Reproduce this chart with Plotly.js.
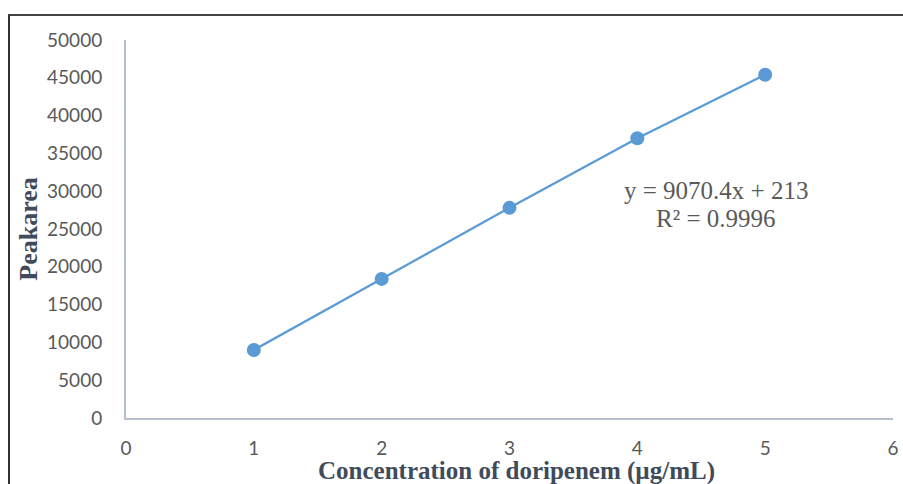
<!DOCTYPE html>
<html>
<head>
<meta charset="utf-8">
<script src="https://cdn.plot.ly/plotly-3.0.1.min.js"></script>
<style>
html,body{margin:0;padding:0;background:#fff;}
#wrap{position:relative;width:903px;height:484px;}
#chart{position:absolute;left:0;top:0;width:903px;height:484px;}
#frame{position:absolute;left:8px;top:14px;width:900px;height:480px;border-left:2px solid #333;border-top:2px solid #444;pointer-events:none;}
</style>
</head>
<body>
<div id="wrap"><div id="chart"></div><div id="frame"></div></div>
<script>
const concentration = [1, 2, 3, 4, 5];
const peakArea = [9000, 18400, 27800, 37000, 45400];
const xTicks = [0, 1, 2, 3, 4, 5, 6];
const yTicks = [0, 5000, 10000, 15000, 20000, 25000, 30000, 35000, 40000, 45000, 50000];
const xTitle = 'Concentration of doripenem (µg/mL)';
const yTitle = 'Peakarea';
const equationLine = 'y = 9070.4x + 213';
const rSquaredLine = 'R² = 0.9996';

const trace = {
  x: concentration,
  y: peakArea,
  type: 'scatter',
  mode: 'lines+markers',
  line: {color: '#5B9BD5', width: 2.25},
  marker: {color: '#5B9BD5', size: 14},
  hoverinfo: 'none',
  showlegend: false
};

const eqFont = {family: 'Liberation Serif, serif', size: 25, color: '#595959'};
const titleFont = {family: 'Liberation Serif, serif', size: 25, color: '#3F4B5B', weight: 'bold'};

const layout = {
  width: 903, height: 484,
  margin: {l: 126, r: 10, t: 40, b: 66},
  paper_bgcolor: 'rgba(0,0,0,0)',
  plot_bgcolor: 'rgba(0,0,0,0)',
  xaxis: {
    range: [0, 6], tickvals: xTicks, ticktext: xTicks.map(String),
    showgrid: false, zeroline: false,
    showline: true, linecolor: '#B7BFCD', linewidth: 2,
    ticks: 'outside', ticklen: 12, tickcolor: 'rgba(0,0,0,0)',
    tickfont: {family: 'Lato, sans-serif', size: 19, color: '#595959'}
  },
  yaxis: {
    range: [0, 50000], tickvals: yTicks, ticktext: yTicks.map(String),
    showgrid: false, zeroline: false,
    showline: true, linecolor: '#B7BFCD', linewidth: 2,
    ticks: 'outside', ticklen: 18, tickcolor: 'rgba(0,0,0,0)',
    tickfont: {family: 'Lato, sans-serif', size: 19, color: '#595959'},
    title: {text: yTitle, standoff: 2,
      font: {family: 'Liberation Serif, serif', size: 26, color: '#3F4B5B', weight: 'bold'}}
  },
  annotations: [
    {xref: 'paper', yref: 'paper', x: (516 - 126) / 767, y: -(471 - 418) / 378,
     xanchor: 'center', yanchor: 'middle', text: xTitle, showarrow: false, font: titleFont},
    {xref: 'paper', yref: 'paper', x: (716 - 126) / 767, y: (418 - 190) / 378,
     xanchor: 'center', yanchor: 'middle', text: equationLine, showarrow: false, font: eqFont},
    {xref: 'paper', yref: 'paper', x: (716 - 126) / 767, y: (418 - 218) / 378,
     xanchor: 'center', yanchor: 'middle', text: rSquaredLine, showarrow: false, font: eqFont}
  ]
};

Plotly.newPlot('chart', [trace], layout, {staticPlot: true, displayModeBar: false});
</script>
</body>
</html>
